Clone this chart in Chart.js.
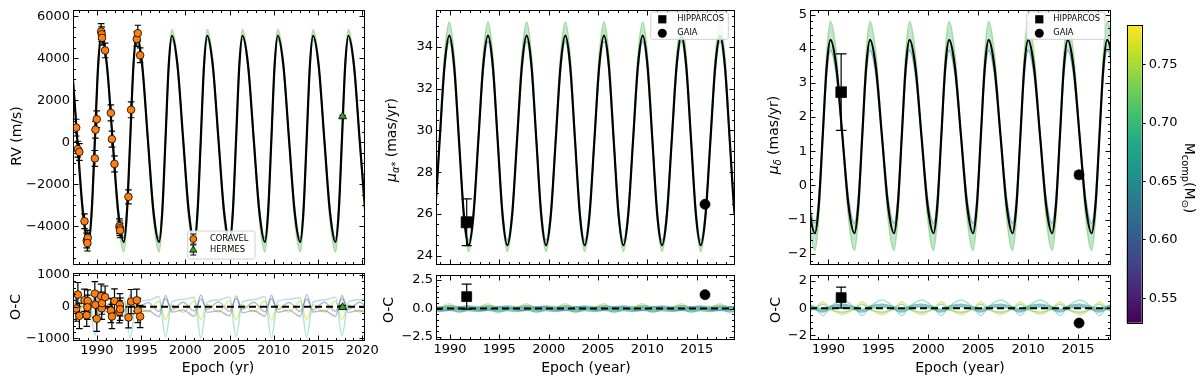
<!DOCTYPE html>
<html>
<head>
<meta charset="utf-8">
<script src="https://cdn.jsdelivr.net/npm/chart.js@4.4.1/dist/chart.umd.min.js"></script>
<style>
  html, body { margin: 0; padding: 0; background: #fff; }
  body { width: 1200px; height: 381px; position: relative; overflow: hidden; }
  canvas { position: absolute; }
</style>
</head>
<body>
<canvas id="rvMain"></canvas>
<canvas id="rvRes"></canvas>
<canvas id="raMain"></canvas>
<canvas id="raRes"></canvas>
<canvas id="decMain"></canvas>
<canvas id="decRes"></canvas>
<canvas id="cbar"></canvas>
<script>
// ---------- tick labels ----------
const rvTicks = [-4000, -2000, 0, 2000, 4000, 6000];
const rvOCTicks = [-1000, 0, 1000];
const raTicks = [24, 26, 28, 30, 32, 34];
const raOCTicks = [-2.5, 0, 2.5];
const decTicks = [-2, -1, 0, 1, 2, 3, 4, 5];
const decOCTicks = [-2, 0, 2];
const epochTicksRV = [1990, 1995, 2000, 2005, 2010, 2015, 2020];
const epochTicks = [1990, 1995, 2000, 2005, 2010, 2015];
const massTicks = [0.55, 0.60, 0.65, 0.70, 0.75];

// ---------- RV panel: model curve and sample envelope ----------
const rvModelEp = [
  1986.51, 1987.15, 1987.78, 1988.42, 1989.05, 1989.41, 1989.78, 1990.14,
  1990.50, 1991.14, 1991.77, 1992.41, 1993.04, 1993.40, 1993.77, 1994.13,
  1994.49, 1995.13, 1995.76, 1996.40, 1997.03, 1997.39, 1997.76, 1998.12,
  1998.48, 1999.12, 1999.75, 2000.39, 2001.02, 2001.38, 2001.75, 2002.11,
  2002.47, 2003.11, 2003.74, 2004.38, 2005.01, 2005.37, 2005.74, 2006.10,
  2006.46, 2007.10, 2007.73, 2008.37, 2009.00, 2009.36, 2009.73, 2010.09,
  2010.45, 2011.09, 2011.72, 2012.36, 2012.99, 2013.35, 2013.72, 2014.08,
  2014.44, 2015.08, 2015.71, 2016.35, 2016.98, 2017.34, 2017.71, 2018.07,
  2018.43, 2019.07, 2019.70, 2020.34
];
const rvModel = [
  5080, 3645, 165, -3315, -4750, -3315, 165, 3645,
  5080, 3645, 165, -3315, -4750, -3315, 165, 3645,
  5080, 3645, 165, -3315, -4750, -3315, 165, 3645,
  5080, 3645, 165, -3315, -4750, -3315, 165, 3645,
  5080, 3645, 165, -3315, -4750, -3315, 165, 3645,
  5080, 3645, 165, -3315, -4750, -3315, 165, 3645,
  5080, 3645, 165, -3315, -4750, -3315, 165, 3645,
  5080, 3645, 165, -3315, -4750, -3315, 165, 3645,
  5080, 3645, 165, -3315
];
const rvHi = [
  5380, 3830, 75, -3680, -5230, -3680, 75, 3830,
  5380, 3830, 75, -3680, -5230, -3680, 75, 3830,
  5380, 3830, 75, -3680, -5230, -3680, 75, 3830,
  5380, 3830, 75, -3680, -5230, -3680, 75, 3830,
  5380, 3830, 75, -3680, -5230, -3680, 75, 3830,
  5380, 3830, 75, -3680, -5230, -3680, 75, 3830,
  5380, 3830, 75, -3680, -5230, -3680, 75, 3830,
  5380, 3830, 75, -3680, -5230, -3680, 75, 3830,
  5380, 3830, 75, -3680
];
const rvLo = [
  4900, 3520, 175, -3170, -4550, -3170, 175, 3520,
  4900, 3520, 175, -3170, -4550, -3170, 175, 3520,
  4900, 3520, 175, -3170, -4550, -3170, 175, 3520,
  4900, 3520, 175, -3170, -4550, -3170, 175, 3520,
  4900, 3520, 175, -3170, -4550, -3170, 175, 3520,
  4900, 3520, 175, -3170, -4550, -3170, 175, 3520,
  4900, 3520, 175, -3170, -4550, -3170, 175, 3520,
  4900, 3520, 175, -3170, -4550, -3170, 175, 3520,
  4900, 3520, 175, -3170
];

// RV measurements
const coravelEp = [1987.66, 1987.85, 1988.02, 1988.60, 1988.85, 1988.97, 1988.93, 1989.77, 1989.84, 1989.99,
  1990.48, 1990.55, 1990.58, 1990.93, 1991.58, 1991.70, 1991.99, 1992.55, 1992.60, 1992.63,
  1993.57, 1993.87, 1994.51, 1994.63, 1994.89];
const coravelRV = [700, -330, -460, -3760, -4680, -4550, -4800, -770, 600, 1100,
  5280, 5150, 4980, 4380, 1400, 150, -1030, -4000, -4100, -4200,
  -2600, 1550, 4920, 5200, 4150];
const coravelErr = [400, 380, 400, 350, 350, 350, 380, 380, 400, 400,
  380, 350, 350, 350, 380, 380, 380, 350, 350, 350,
  330, 380, 350, 380, 350];
const coravelOC = [-60, 380, -290, 200, -270, 180, -20, 410, 60, -380,
  330, -50, 110, 300, -120, -310, 180, -160, 60, -80,
  -340, 160, 200, -120, -310];
const hermesEp = [2017.78];
const hermesRV = [1230];
const hermesErr = [60];
const hermesOC = [-20];

// RV residual samples
const ocEp1 = [
  1986.51, 1987.78, 1989.05, 1989.78, 1990.50, 1991.77, 1993.04, 1993.77,
  1994.49, 1995.76, 1997.03, 1997.76, 1998.48, 1999.75, 2001.02, 2001.75,
  2002.47, 2003.74, 2005.01, 2005.74, 2006.46, 2007.73, 2009.00, 2009.73,
  2010.45, 2011.72, 2012.99, 2013.72, 2014.44, 2015.71, 2016.98, 2017.71,
  2018.43, 2019.70, 2020.97
];
const ocA1 = [150, 220, 280, -900, 140, 240, 300, -980, 160, 200, 320, -950, 150, 230, 290, -1000,
  130, 210, 300, -940, 150, 220, 310, -990, 160, 230, 280, -960, 140, 210, 300, -920, 150, 220, 290];
const ocB1 = [-170, -110, -290, 360, -180, -130, -300, 380, -190, -120, -310, 350, -170, -110, -300, 370,
  -180, -130, -290, 340, -190, -120, -300, 360, -180, -110, -310, 380, -170, -120, -300, 350, -180, -120, -300];
const ocC1 = [60, -170, 180, -400, 70, -160, 190, -430, 50, -170, 170, -420, 60, -180, 180, -410,
  70, -170, 190, -420, 60, -160, 180, -430, 50, -170, 170, -400, 60, -170, 180, -420, 60, -170, 180];
const ocD1 = [-90, 140, -150, 240, -80, 150, -160, 260, -90, 130, -150, 250, -100, 140, -140, 240,
  -90, 150, -150, 260, -80, 140, -160, 250, -90, 130, -150, 240, -100, 140, -150, 250, -90, 140, -150];

// ---------- mu_alpha* panel ----------
const raModelEp = [
  1987.97, 1988.46, 1988.95, 1989.44, 1989.93, 1990.42, 1990.91, 1991.40,
  1991.89, 1992.38, 1992.87, 1993.36, 1993.85, 1994.34, 1994.83, 1995.32,
  1995.81, 1996.30, 1996.79, 1997.28, 1997.77, 1998.26, 1998.75, 1999.24,
  1999.73, 2000.22, 2000.71, 2001.20, 2001.69, 2002.18, 2002.67, 2003.16,
  2003.65, 2004.14, 2004.63, 2005.12, 2005.61, 2006.10, 2006.59, 2007.08,
  2007.57, 2008.06, 2008.55, 2009.04, 2009.53, 2010.02, 2010.51, 2011.00,
  2011.49, 2011.98, 2012.47, 2012.96, 2013.45, 2013.94, 2014.43, 2014.92,
  2015.41, 2015.90, 2016.39, 2016.88, 2017.37, 2017.86, 2018.35, 2018.84,
  2019.33
];
const raModel = [
  24.50, 25.97, 29.52, 33.08, 34.55, 33.08, 29.52, 25.97,
  24.50, 25.97, 29.52, 33.08, 34.55, 33.08, 29.52, 25.97,
  24.50, 25.97, 29.52, 33.08, 34.55, 33.08, 29.52, 25.97,
  24.50, 25.97, 29.52, 33.08, 34.55, 33.08, 29.52, 25.97,
  24.50, 25.97, 29.52, 33.08, 34.55, 33.08, 29.52, 25.97,
  24.50, 25.97, 29.52, 33.08, 34.55, 33.08, 29.52, 25.97,
  24.50, 25.97, 29.52, 33.08, 34.55, 33.08, 29.52, 25.97,
  24.50, 25.97, 29.52, 33.08, 34.55, 33.08, 29.52, 25.97,
  24.50
];
const raHi = [
  24.20, 25.81, 29.70, 33.59, 35.20, 33.59, 29.70, 25.81,
  24.20, 25.81, 29.70, 33.59, 35.20, 33.59, 29.70, 25.81,
  24.20, 25.81, 29.70, 33.59, 35.20, 33.59, 29.70, 25.81,
  24.20, 25.81, 29.70, 33.59, 35.20, 33.59, 29.70, 25.81,
  24.20, 25.81, 29.70, 33.59, 35.20, 33.59, 29.70, 25.81,
  24.20, 25.81, 29.70, 33.59, 35.20, 33.59, 29.70, 25.81,
  24.20, 25.81, 29.70, 33.59, 35.20, 33.59, 29.70, 25.81,
  24.20, 25.81, 29.70, 33.59, 35.20, 33.59, 29.70, 25.81,
  24.20
];
const raLo = [
  24.75, 26.14, 29.50, 32.86, 34.25, 32.86, 29.50, 26.14,
  24.75, 26.14, 29.50, 32.86, 34.25, 32.86, 29.50, 26.14,
  24.75, 26.14, 29.50, 32.86, 34.25, 32.86, 29.50, 26.14,
  24.75, 26.14, 29.50, 32.86, 34.25, 32.86, 29.50, 26.14,
  24.75, 26.14, 29.50, 32.86, 34.25, 32.86, 29.50, 26.14,
  24.75, 26.14, 29.50, 32.86, 34.25, 32.86, 29.50, 26.14,
  24.75, 26.14, 29.50, 32.86, 34.25, 32.86, 29.50, 26.14,
  24.75, 26.14, 29.50, 32.86, 34.25, 32.86, 29.50, 26.14,
  24.75
];
const hipRaEp = [1991.69];
const hipRa = [25.6];
const hipRaErr = [1.12];
const hipRaOC = [1.05];
const hipRaOCErr = [1.1];
const gaiaRaEp = [2015.84];
const gaiaRa = [26.46];
const gaiaRaErr = [0.05];
const gaiaRaOC = [1.22];

const ocEp2 = [
  1987.97, 1988.95, 1989.93, 1990.91, 1991.89, 1992.87, 1993.85, 1994.83,
  1995.81, 1996.79, 1997.77, 1998.75, 1999.73, 2000.71, 2001.69, 2002.67,
  2003.65, 2004.63, 2005.61, 2006.59, 2007.57, 2008.55, 2009.53, 2010.51,
  2011.49, 2012.47, 2013.45, 2014.43, 2015.41, 2016.39, 2017.37, 2018.35,
  2019.33
];
const ocA2 = [0.04, 0.10, 0.42, -0.10, 0.04, 0.10, 0.42, -0.10, 0.04, 0.10, 0.42, -0.10, 0.04, 0.10, 0.42, -0.10,
  0.04, 0.10, 0.42, -0.10, 0.04, 0.10, 0.42, -0.10, 0.04, 0.10, 0.42, -0.10, 0.04, 0.10, 0.42, -0.10, 0.04];
const ocB2 = [-0.06, 0.02, 0.12, -0.38, -0.06, 0.02, 0.12, -0.38, -0.06, 0.02, 0.12, -0.38, -0.06, 0.02, 0.12, -0.38,
  -0.06, 0.02, 0.12, -0.38, -0.06, 0.02, 0.12, -0.38, -0.06, 0.02, 0.12, -0.38, -0.06, 0.02, 0.12, -0.38, -0.06];
const ocC2 = [0.12, -0.12, -0.16, 0.14, 0.12, -0.12, -0.16, 0.14, 0.12, -0.12, -0.16, 0.14, 0.12, -0.12, -0.16, 0.14,
  0.12, -0.12, -0.16, 0.14, 0.12, -0.12, -0.16, 0.14, 0.12, -0.12, -0.16, 0.14, 0.12, -0.12, -0.16, 0.14, 0.12];
const ocD2 = [0.02, -0.06, 0.06, -0.04, 0.02, -0.06, 0.06, -0.04, 0.02, -0.06, 0.06, -0.04, 0.02, -0.06, 0.06, -0.04,
  0.02, -0.06, 0.06, -0.04, 0.02, -0.06, 0.06, -0.04, 0.02, -0.06, 0.06, -0.04, 0.02, -0.06, 0.06, -0.04, 0.02];

// ---------- mu_delta panel ----------
const decModelEp = [
  1987.44, 1988.04,
  1988.64, 1989.03, 1989.42, 1989.81, 1990.20, 1990.80, 1991.40, 1992.00,
  1992.60, 1992.99, 1993.38, 1993.77, 1994.16, 1994.76, 1995.36, 1995.96,
  1996.56, 1996.95, 1997.34, 1997.73, 1998.12, 1998.72, 1999.32, 1999.92,
  2000.52, 2000.91, 2001.30, 2001.69, 2002.08, 2002.68, 2003.28, 2003.88,
  2004.48, 2004.87, 2005.26, 2005.65, 2006.04, 2006.64, 2007.24, 2007.84,
  2008.44, 2008.83, 2009.22, 2009.61, 2010.00, 2010.60, 2011.20, 2011.80,
  2012.40, 2012.79, 2013.18, 2013.57, 2013.96, 2014.56, 2015.16, 2015.76,
  2016.36, 2016.75, 2017.14, 2017.53, 2017.92, 2018.52, 2019.12
];
const decModel = [
  1.43, -0.57,
  -1.40, -0.57, 1.43, 3.43, 4.26, 3.43, 1.43, -0.57,
  -1.40, -0.57, 1.43, 3.43, 4.26, 3.43, 1.43, -0.57,
  -1.40, -0.57, 1.43, 3.43, 4.26, 3.43, 1.43, -0.57,
  -1.40, -0.57, 1.43, 3.43, 4.26, 3.43, 1.43, -0.57,
  -1.40, -0.57, 1.43, 3.43, 4.26, 3.43, 1.43, -0.57,
  -1.40, -0.57, 1.43, 3.43, 4.26, 3.43, 1.43, -0.57,
  -1.40, -0.57, 1.43, 3.43, 4.26, 3.43, 1.43, -0.57,
  -1.40, -0.57, 1.43, 3.43, 4.26, 3.43, 1.43
];
const decHi = [
  1.45, -0.92,
  -1.90, -0.92, 1.45, 3.82, 4.80, 3.82, 1.45, -0.92,
  -1.90, -0.92, 1.45, 3.82, 4.80, 3.82, 1.45, -0.92,
  -1.90, -0.92, 1.45, 3.82, 4.80, 3.82, 1.45, -0.92,
  -1.90, -0.92, 1.45, 3.82, 4.80, 3.82, 1.45, -0.92,
  -1.90, -0.92, 1.45, 3.82, 4.80, 3.82, 1.45, -0.92,
  -1.90, -0.92, 1.45, 3.82, 4.80, 3.82, 1.45, -0.92,
  -1.90, -0.92, 1.45, 3.82, 4.80, 3.82, 1.45, -0.92,
  -1.90, -0.92, 1.45, 3.82, 4.80, 3.82, 1.45
];
const decLo = [
  1.43, -0.36,
  -1.10, -0.36, 1.43, 3.21, 3.95, 3.21, 1.43, -0.36,
  -1.10, -0.36, 1.43, 3.21, 3.95, 3.21, 1.43, -0.36,
  -1.10, -0.36, 1.43, 3.21, 3.95, 3.21, 1.43, -0.36,
  -1.10, -0.36, 1.43, 3.21, 3.95, 3.21, 1.43, -0.36,
  -1.10, -0.36, 1.43, 3.21, 3.95, 3.21, 1.43, -0.36,
  -1.10, -0.36, 1.43, 3.21, 3.95, 3.21, 1.43, -0.36,
  -1.10, -0.36, 1.43, 3.21, 3.95, 3.21, 1.43, -0.36,
  -1.10, -0.36, 1.43, 3.21, 3.95, 3.21, 1.43
];
const hipDecEp = [1991.27];
const hipDec = [2.73];
const hipDecErr = [1.12];
const hipDecOC = [0.78];
const hipDecOCErr = [0.78];
const gaiaDecEp = [2015.10];
const gaiaDec = [0.31];
const gaiaDecErr = [0.1];
const gaiaDecOC = [-1.1];

const ocEp3 = [
  1987.44,
  1988.64, 1989.42, 1990.20, 1991.40, 1992.60, 1993.38, 1994.16, 1995.36,
  1996.56, 1997.34, 1998.12, 1999.32, 2000.52, 2001.30, 2002.08, 2003.28,
  2004.48, 2005.26, 2006.04, 2007.24, 2008.44, 2009.22, 2010.00, 2011.20,
  2012.40, 2013.18, 2013.96, 2015.16, 2016.36, 2017.14, 2017.92, 2019.12
];
const ocA3 = [-0.45, 0.00, 0.45, 0.00, -0.45, 0.00, 0.45, 0.00, -0.45, 0.00, 0.45, 0.00, -0.45, 0.00, 0.45, 0.00, -0.45,
  0.00, 0.45, 0.00, -0.45, 0.00, 0.45, 0.00, -0.45, 0.00, 0.45, 0.00, -0.45, 0.00, 0.45, 0.00, -0.45];
const ocB3 = [0.60, 0.05, -0.55, 0.10, 0.60, 0.05, -0.55, 0.10, 0.60, 0.05, -0.55, 0.10, 0.60, 0.05, -0.55, 0.10, 0.60,
  0.05, -0.55, 0.10, 0.60, 0.05, -0.55, 0.10, 0.60, 0.05, -0.55, 0.10, 0.60, 0.05, -0.55, 0.10, 0.60];
const ocC3 = [-0.30, -0.05, 0.30, -0.10, -0.30, -0.05, 0.30, -0.10, -0.30, -0.05, 0.30, -0.10, -0.30, -0.05, 0.30, -0.10, -0.30,
  -0.05, 0.30, -0.10, -0.30, -0.05, 0.30, -0.10, -0.30, -0.05, 0.30, -0.10, -0.30, -0.05, 0.30, -0.10, -0.30];
const ocD3 = [0.20, 0.00, -0.20, 0.05, 0.20, 0.00, -0.20, 0.05, 0.20, 0.00, -0.20, 0.05, 0.20, 0.00, -0.20, 0.05, 0.20,
  0.00, -0.20, 0.05, 0.20, 0.00, -0.20, 0.05, 0.20, 0.00, -0.20, 0.05, 0.20, 0.00, -0.20, 0.05, 0.20];

// colour bar (companion mass)
const massRange = [0.529, 0.784];
const viridis = ['#440154', '#482475', '#414487', '#355f8d', '#2a788e', '#21918c',
  '#22a884', '#44bf70', '#7ad151', '#bddf26', '#fde725'];

const FONT = 'DejaVu Sans';
const TICK_SIZE = 13;

// ---------- helpers ----------
const pts = (xs, ys) => xs.map((x, i) => ({x: x, y: ys[i]}));
const fixTicks = arr => s => { s.ticks = arr.map(v => ({value: v})); };
const minusFmt = v => (v < 0 ? '\u2212' + Math.abs(v) : '' + v);
const minusFmt1 = v => (v < 0 ? '\u2212' + Math.abs(v).toFixed(1) : v.toFixed(1));

function marker(ctx, style, x, y, r, fill, edge) {
  ctx.beginPath();
  if (style === 'rect') ctx.rect(x - r, y - r, 2 * r, 2 * r);
  else if (style === 'triangle') {
    ctx.moveTo(x, y - r * 1.15); ctx.lineTo(x + r, y + r * 0.6); ctx.lineTo(x - r, y + r * 0.6); ctx.closePath();
  } else ctx.arc(x, y, r, 0, Math.PI * 2);
  ctx.fillStyle = fill; ctx.fill();
  if (edge) { ctx.strokeStyle = edge; ctx.lineWidth = 0.8; ctx.stroke(); }
}

function richText(ctx, segs, x, y, rot, size) {
  ctx.save();
  ctx.translate(x, y);
  ctx.rotate(rot);
  ctx.fillStyle = '#000';
  ctx.textBaseline = 'alphabetic';
  const parts = segs.map(s => {
    const fs = s.sub ? size * 0.7 : size;
    const font = (s.it ? 'italic ' : '') + fs + 'px "' + FONT + '"';
    ctx.font = font;
    return {t: s.t, font: font, w: ctx.measureText(s.t).width, dy: s.sub ? size * 0.24 : 0};
  });
  let cx = -parts.reduce((a, p) => a + p.w, 0) / 2;
  parts.forEach(p => { ctx.font = p.font; ctx.fillText(p.t, cx, size * 0.36 + p.dy); cx += p.w; });
  ctx.restore();
}

// inward major/minor ticks on all four sides + frame
const framePlugin = {
  id: 'frame',
  afterDatasetsDraw(chart, args, o) {
    if (!o || !o.xMinor) return;
    const {ctx, chartArea: a} = chart, xs = chart.scales.x, ys = chart.scales.y;
    const r = v => Math.round(v) + 0.5;
    const minor = (s, step) => {
      const out = [];
      for (let i = Math.ceil(s.min / step - 1e-6); i * step <= s.max + 1e-9; i++) out.push(i * step);
      return out;
    };
    const L = r(a.left), R = r(a.right), T = r(a.top), B = r(a.bottom);
    ctx.save();
    ctx.strokeStyle = '#000';
    ctx.lineWidth = 1;
    ctx.beginPath();
    const vx = (v, len) => { const p = r(xs.getPixelForValue(v)); ctx.moveTo(p, B); ctx.lineTo(p, B - len); ctx.moveTo(p, T); ctx.lineTo(p, T + len); };
    const vy = (v, len) => { const p = r(ys.getPixelForValue(v)); ctx.moveTo(L, p); ctx.lineTo(L + len, p); ctx.moveTo(R, p); ctx.lineTo(R - len, p); };
    minor(xs, o.xMinor).forEach(v => vx(v, 2.5));
    minor(ys, o.yMinor).forEach(v => vy(v, 2.5));
    xs.ticks.forEach(t => vx(t.value, 5));
    ys.ticks.forEach(t => vy(t.value, 5));
    ctx.stroke();
    ctx.strokeRect(L, T, R - L, B - T);
    ctx.restore();
  }
};

// error bars (and the dashed zero line of the residual panels)
const errorBarPlugin = {
  id: 'errbars',
  beforeDatasetDraw(chart, args) {
    const ds = chart.data.datasets[args.index];
    const ctx = chart.ctx, ys = chart.scales.y, a = chart.chartArea;
    if (ds.zeroLine) {
      const p = ys.getPixelForValue(0);
      ctx.save();
      ctx.strokeStyle = '#000'; ctx.lineWidth = 2; ctx.setLineDash([7, 4]);
      ctx.beginPath(); ctx.moveTo(a.left, p); ctx.lineTo(a.right, p); ctx.stroke();
      ctx.restore();
    }
    if (!ds.errs) return;
    const c = ds.capHalf || 3.5;
    ctx.save();
    ctx.strokeStyle = '#000';
    ctx.lineWidth = 1.2;
    args.meta.data.forEach((pt, i) => {
      const v = ds.data[i].y, e = ds.errs[i];
      const y1 = ys.getPixelForValue(v - e), y2 = ys.getPixelForValue(v + e);
      ctx.beginPath();
      ctx.moveTo(pt.x, y1); ctx.lineTo(pt.x, y2);
      ctx.moveTo(pt.x - c, y1); ctx.lineTo(pt.x + c, y1);
      ctx.moveTo(pt.x - c, y2); ctx.lineTo(pt.x + c, y2);
      ctx.stroke();
    });
    ctx.restore();
  }
};

// legend box inside the axes
const boxLegendPlugin = {
  id: 'boxLegend',
  afterDraw(chart, args, o) {
    if (!o || !o.items) return;
    const ctx = chart.ctx;
    ctx.save();
    ctx.beginPath();
    if (ctx.roundRect) ctx.roundRect(o.x, o.y, o.w, o.h, 2); else ctx.rect(o.x, o.y, o.w, o.h);
    ctx.fillStyle = 'rgba(255,255,255,0.85)';
    ctx.fill();
    ctx.strokeStyle = '#d0d0d0';
    ctx.lineWidth = 1;
    ctx.stroke();
    o.items.forEach((it, i) => {
      const cx = o.x + o.mx, cy = o.y + o.row0 + i * o.gap;
      if (it.err) {
        ctx.strokeStyle = '#000'; ctx.lineWidth = 1;
        ctx.beginPath();
        ctx.moveTo(cx, cy - it.err); ctx.lineTo(cx, cy + it.err);
        ctx.moveTo(cx - 3, cy - it.err); ctx.lineTo(cx + 3, cy - it.err);
        ctx.moveTo(cx - 3, cy + it.err); ctx.lineTo(cx + 3, cy + it.err);
        ctx.stroke();
      }
      marker(ctx, it.style, cx, cy, it.r, it.color, it.edge);
      ctx.fillStyle = '#000';
      ctx.font = '8.3px "' + FONT + '"';
      ctx.textBaseline = 'middle';
      ctx.textAlign = 'left';
      ctx.fillText(it.label, o.x + o.tx, cy);
    });
    ctx.restore();
  }
};

const titlesPlugin = {
  id: 'titles',
  afterDraw(chart, args, o) {
    ((o && o.list) || []).forEach(t => richText(chart.ctx, t.segs, t.x, t.y, t.rot || 0, t.size || 14));
  }
};

const cbarPlugin = {
  id: 'cbar',
  beforeDatasetsDraw(chart, args, o) {
    if (!o || !o.stops) return;
    const {ctx, chartArea: a} = chart;
    const g = ctx.createLinearGradient(0, a.bottom, 0, a.top);
    o.stops.forEach((c, i) => g.addColorStop(i / (o.stops.length - 1), c));
    ctx.save();
    ctx.fillStyle = g;
    ctx.fillRect(a.left, a.top, a.right - a.left, a.bottom - a.top);
    ctx.strokeStyle = '#000';
    ctx.lineWidth = 1;
    ctx.strokeRect(Math.round(a.left) + 0.5, Math.round(a.top) + 0.5, Math.round(a.right - a.left), Math.round(a.bottom - a.top));
    ctx.restore();
  }
};

Chart.register(framePlugin, errorBarPlugin, boxLegendPlugin, titlesPlugin, cbarPlugin);

// ---------- dataset builders ----------
function curveSets(ep, model, hi, lo) {
  return [
    {data: pts(ep, hi), borderColor: 'rgba(122,209,81,0.6)', borderWidth: 1.5,
     backgroundColor: 'rgba(60,175,125,0.32)', fill: '+1', order: 3, clip: 0},
    {data: pts(ep, lo), borderColor: 'rgba(38,130,142,0.5)', borderWidth: 1.5, fill: false, order: 2, clip: 0},
    {data: pts(ep, model), borderColor: '#000', borderWidth: 2.2, fill: false, order: 1, clip: 0}
  ];
}
function ocLine(ep, vals, color, width) {
  return {data: pts(ep, vals), borderColor: color, borderWidth: width || 1.4, fill: false, order: 5, clip: 0};
}
function markerSet(ep, vals, errs, style, color, radius, cap, extra) {
  return Object.assign({
    data: pts(ep, vals), errs: errs, capHalf: cap, showLine: false,
    pointStyle: style, pointRadius: radius, pointBackgroundColor: color,
    pointBorderColor: '#000', pointBorderWidth: 0.8, order: 0
  }, extra || {});
}

function build(id, g, o) {
  const cv = document.getElementById(id);
  cv.width = g.w; cv.height = g.h;
  cv.style.left = g.left + 'px'; cv.style.top = g.top + 'px';
  cv.style.width = g.w + 'px'; cv.style.height = g.h + 'px';
  const tickFont = {family: FONT, size: TICK_SIZE, lineHeight: 1};
  return new Chart(cv, {
    type: 'line',
    data: {datasets: o.datasets},
    options: {
      responsive: false, animation: false, events: [],
      layout: {padding: g.pad},
      elements: {point: {radius: 0}, line: {cubicInterpolationMode: 'monotone'}},
      plugins: {
        legend: {display: false}, tooltip: {enabled: false},
        frame: o.frame, boxLegend: o.legend || {}, titles: {list: o.titles || []}
      },
      scales: {
        x: {
          type: 'linear', min: o.x[0], max: o.x[1],
          afterBuildTicks: fixTicks(o.xTicks),
          ticks: {display: !!o.xLabels, autoSkip: false, maxRotation: 0,
                  color: '#000', font: tickFont, padding: 4, callback: v => String(v)},
          grid: {display: false, drawTicks: false}, border: {display: false},
          afterFit: s => { s.height = g.xH; }
        },
        y: {
          type: 'linear', min: o.y[0], max: o.y[1],
          afterBuildTicks: fixTicks(o.yTicks),
          ticks: {autoSkip: false, color: '#000', font: tickFont, padding: 3, callback: o.yFmt},
          grid: {display: false, drawTicks: false}, border: {display: false},
          afterFit: s => { s.width = g.yW; }
        }
      }
    }
  });
}

const rot = -Math.PI / 2;

// ---------- RV ----------
build('rvMain', {left: 0, top: 0, w: 390, h: 276, yW: 73, xH: 12, pad: {left: 0, top: 8, right: 26, bottom: 0}}, {
  x: [1987.3, 2020.2], y: [-5800, 6330], xTicks: epochTicksRV, yTicks: rvTicks, yFmt: minusFmt,
  frame: {xMinor: 1, yMinor: 500},
  datasets: [
    markerSet(coravelEp, coravelRV, coravelErr, 'circle', '#ff7f0e', 3.8, 3.3),
    markerSet(hermesEp, hermesRV, hermesErr, 'triangle', '#2ca02c', 4.6, 3.3, {order: 0.5})
  ].concat(curveSets(rvModelEp, rvModel, rvHi, rvLo)),
  legend: {x: 187.7, y: 231, w: 67.3, h: 28, mx: 5.6, tx: 22.3, row0: 8, gap: 11,
    items: [
      {label: 'CORAVEL', style: 'circle', r: 3.4, color: '#ff7f0e', edge: '#000', err: 5},
      {label: 'HERMES', style: 'triangle', r: 3.6, color: '#2ca02c', edge: '#000', err: 5}
    ]},
  titles: [{segs: [{t: 'RV (m/s)'}], x: 16, y: 136, rot: rot}]
});

build('rvRes', {left: 0, top: 262, w: 390, h: 119, yW: 73, xH: 41, pad: {left: 0, top: 11.3, right: 26, bottom: 0}}, {
  x: [1987.3, 2020.2], y: [-1050, 1050], xTicks: epochTicksRV, yTicks: rvOCTicks, yFmt: minusFmt, xLabels: true,
  frame: {xMinor: 1, yMinor: 200},
  datasets: [
    markerSet(coravelEp, coravelOC, coravelErr, 'circle', '#ff7f0e', 3.8, 3.3),
    markerSet(hermesEp, hermesOC, hermesErr, 'triangle', '#2ca02c', 4.6, 3.3, {order: 0.5, zeroLine: true}),
    ocLine(ocEp1, ocA1, 'rgba(95,200,180,0.5)'),
    ocLine(ocEp1, ocB1, 'rgba(59,82,139,0.4)'),
    ocLine(ocEp1, ocC1, 'rgba(189,223,38,0.55)'),
    ocLine(ocEp1, ocD1, 'rgba(72,36,117,0.35)')
  ],
  titles: [
    {segs: [{t: 'O-C'}], x: 15, y: 45, rot: rot},
    {segs: [{t: 'Epoch (yr)'}], x: 218, y: 105}
  ]
});

// ---------- mu_alpha* ----------
build('raMain', {left: 372, top: 0, w: 390, h: 276, yW: 64, xH: 12, pad: {left: 0, top: 7.5, right: 27.7, bottom: 0}}, {
  x: [1988.58, 2018.81], y: [23.6, 35.8], xTicks: epochTicks, yTicks: raTicks, yFmt: minusFmt,
  frame: {xMinor: 1, yMinor: 0.5},
  datasets: [
    markerSet(gaiaRaEp, gaiaRa, gaiaRaErr, 'circle', '#000', 5, 4),
    markerSet(hipRaEp, hipRa, hipRaErr, 'rect', '#000', 7.8, 5, {order: 0.5})
  ].concat(curveSets(raModelEp, raModel, raHi, raLo)),
  legend: {x: 278.7, y: 12, w: 77.6, h: 27.3, mx: 11.6, tx: 26.6, row0: 7.3, gap: 14,
    items: [
      {label: 'HIPPARCOS', style: 'rect', r: 4.1, color: '#000'},
      {label: 'GAIA', style: 'circle', r: 4.5, color: '#000'}
    ]},
  titles: [{segs: [{t: '\u03bc', it: 1}, {t: '\u03b1*', sub: 1, it: 1}, {t: ' (mas/yr)'}], x: 19, y: 140, rot: rot}]
});

build('raRes', {left: 372, top: 262, w: 390, h: 119, yW: 64, xH: 41.7, pad: {left: 0, top: 13, right: 27.7, bottom: 0}}, {
  x: [1988.58, 2018.81], y: [-2.7, 2.95], xTicks: epochTicks, yTicks: raOCTicks, yFmt: minusFmt1, xLabels: true,
  frame: {xMinor: 1, yMinor: 0.5},
  datasets: [
    markerSet(gaiaRaEp, gaiaRaOC, [0.05], 'circle', '#000', 5, 4),
    markerSet(hipRaEp, hipRaOC, hipRaOCErr, 'rect', '#000', 7, 5, {order: 0.5, zeroLine: true}),
    ocLine(ocEp2, ocD2, 'rgba(33,145,140,0.55)', 6),
    ocLine(ocEp2, ocA2, 'rgba(189,223,38,0.6)'),
    ocLine(ocEp2, ocB2, 'rgba(95,200,180,0.55)'),
    ocLine(ocEp2, ocC2, 'rgba(49,104,142,0.45)')
  ],
  titles: [
    {segs: [{t: 'O-C'}], x: 16, y: 48, rot: rot},
    {segs: [{t: 'Epoch (year)'}], x: 214, y: 105}
  ]
});

// ---------- mu_delta ----------
build('decMain', {left: 742, top: 0, w: 390, h: 276, yW: 68, xH: 12, pad: {left: 0, top: 7.5, right: 22, bottom: 0}}, {
  x: [1988.15, 2018.2], y: [-2.3, 5.15], xTicks: epochTicks, yTicks: decTicks, yFmt: minusFmt,
  frame: {xMinor: 1, yMinor: 0.2},
  datasets: [
    markerSet(gaiaDecEp, gaiaDec, gaiaDecErr, 'circle', '#000', 5, 4.5),
    markerSet(hipDecEp, hipDec, hipDecErr, 'rect', '#000', 7.5, 5.3, {order: 0.5})
  ].concat(curveSets(decModelEp, decModel, decHi, decLo)),
  legend: {x: 284.7, y: 12, w: 78.3, h: 27.3, mx: 12.6, tx: 26.6, row0: 7.3, gap: 14,
    items: [
      {label: 'HIPPARCOS', style: 'rect', r: 4.1, color: '#000'},
      {label: 'GAIA', style: 'circle', r: 4.5, color: '#000'}
    ]},
  titles: [{segs: [{t: '\u03bc', it: 1}, {t: '\u03b4', sub: 1, it: 1}, {t: ' (mas/yr)'}], x: 31, y: 135, rot: rot}]
});

build('decRes', {left: 742, top: 262, w: 390, h: 119, yW: 68, xH: 41.7, pad: {left: 0, top: 13, right: 22, bottom: 0}}, {
  x: [1988.15, 2018.2], y: [-2.3, 2.45], xTicks: epochTicks, yTicks: decOCTicks, yFmt: minusFmt, xLabels: true,
  frame: {xMinor: 1, yMinor: 0.5},
  datasets: [
    markerSet(gaiaDecEp, gaiaDecOC, [0.05], 'circle', '#000', 5, 4),
    markerSet(hipDecEp, hipDecOC, hipDecOCErr, 'rect', '#000', 7, 5, {order: 0.5, zeroLine: true}),
    ocLine(ocEp3, ocD3, 'rgba(33,145,140,0.55)', 4),
    ocLine(ocEp3, ocA3, 'rgba(189,223,38,0.6)'),
    ocLine(ocEp3, ocB3, 'rgba(95,200,180,0.55)'),
    ocLine(ocEp3, ocC3, 'rgba(68,191,112,0.55)')
  ],
  titles: [
    {segs: [{t: 'O-C'}], x: 33, y: 48, rot: rot},
    {segs: [{t: 'Epoch (year)'}], x: 218, y: 105}
  ]
});

// ---------- colour bar ----------
(function () {
  const cv = document.getElementById('cbar');
  cv.width = 83; cv.height = 381;
  cv.style.left = '1117px'; cv.style.top = '0px';
  cv.style.width = '83px'; cv.style.height = '381px';
  new Chart(cv, {
    type: 'line',
    data: {datasets: []},
    options: {
      responsive: false, animation: false, events: [],
      layout: {padding: {left: 9.7, top: 25, right: 0, bottom: 58.3}},
      plugins: {
        legend: {display: false}, tooltip: {enabled: false},
        cbar: {stops: viridis},
        titles: {list: [{segs: [{t: 'M'}, {t: 'comp', sub: 1}, {t: '(M'}, {t: '\u2299', sub: 1}, {t: ')'}], x: 73, y: 178, rot: Math.PI / 2}]}
      },
      scales: {
        x: {type: 'linear', display: false, min: 0, max: 1},
        y: {
          type: 'linear', position: 'right', min: massRange[0], max: massRange[1],
          afterBuildTicks: fixTicks(massTicks),
          ticks: {autoSkip: false, color: '#000',
                  font: {family: FONT, size: TICK_SIZE, lineHeight: 1}, padding: 3, callback: v => v.toFixed(2)},
          grid: {display: true, drawOnChartArea: false, drawTicks: true, tickLength: 4, color: '#000', lineWidth: 1},
          border: {display: false},
          afterFit: s => { s.width = 58.3; }
        }
      }
    }
  });
})();
</script>
</body>
</html>
